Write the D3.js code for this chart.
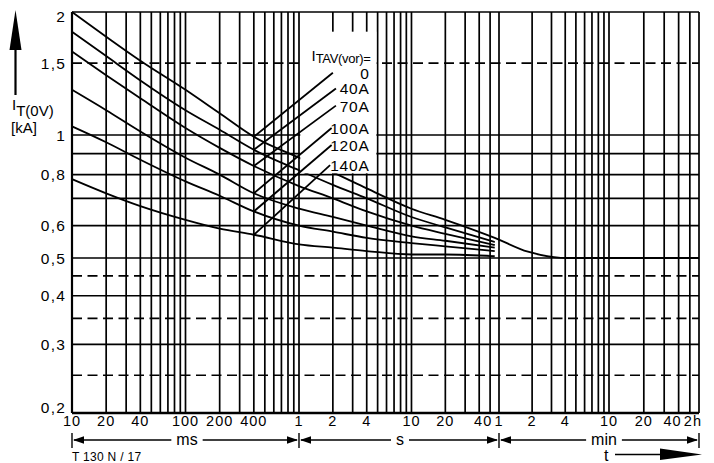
<!DOCTYPE html>
<html lang="de">
<head>
<meta charset="UTF-8">
<title>Grenzstrom I_T(0V)</title>
<script src="https://d3js.org/d3.v7.min.js"></script>
<style>
  body { margin: 0; background: #fff; }
  svg text { font-family: "Liberation Sans", Arial, sans-serif; fill: #000; }
</style>
</head>
<body>
<svg width="714" height="463"></svg>
<script>
// time in s, current in kA
const times    = [0.01, 0.02, 0.04, 0.1, 0.2, 0.4, 1, 2, 4, 10, 20, 55];
const curve0   = [2.00, 1.74, 1.52, 1.29, 1.13, 0.99, 0.88, 0.81, 0.74, 0.66, 0.62, 0.56];
const curve40  = [1.79, 1.56, 1.36, 1.15, 1.03, 0.92, 0.82, 0.755, 0.70, 0.63, 0.594, 0.547];
const curve70  = [1.60, 1.40, 1.23, 1.04, 0.93, 0.84, 0.75, 0.70, 0.65, 0.60, 0.573, 0.538];
const curve100 = [1.29, 1.15, 1.02, 0.88, 0.80, 0.72, 0.66, 0.63, 0.60, 0.565, 0.551, 0.53];
const curve120 = [1.05, 0.96, 0.87, 0.77, 0.71, 0.65, 0.60, 0.58, 0.56, 0.544, 0.534, 0.52];
const curve140 = [0.78, 0.72, 0.67, 0.62, 0.59, 0.57, 0.54, 0.53, 0.52, 0.51, 0.51, 0.505];
// the 0 A curve goes on down to the 0,5 kA line
const tailTimes = [110, 250, 3600];
const tail0     = [0.518, 0.50, 0.50];

const legendLabels = ["0", "40A", "70A", "100A", "120A", "140A"];
const leaderEndT = [2.0, 2.13, 2.13, 1.95, 1.95, 1.89];
const leaderEndV = [1.42, 1.30, 1.18, 1.04, 0.945, 0.844];

// grid
const gridMs  = [10, 20, 30, 40, 50, 60, 70, 80, 90, 100, 200, 300, 400, 500, 600, 700, 800, 900];
const gridS   = [1, 2, 3, 4, 5, 6, 7, 8, 9, 10, 20, 30, 40, 50];
const gridMin = [1, 2, 3, 4, 5, 6, 7, 8, 9, 10, 20, 30, 40, 50, 60];
const solidLevels  = [2, 1, 0.9, 0.8, 0.7, 0.6, 0.5, 0.4, 0.3, 0.2];
const dashedLevels = [1.5, 0.45, 0.35, 0.25];

const yTickVals = [2, 1.5, 1, 0.8, 0.6, 0.5, 0.4, 0.3, 0.2];
const xTickVals = [0.01, 0.02, 0.04, 0.1, 0.2, 0.4, 1, 2, 4, 10, 20, 40, 60, 120, 240, 600, 1200, 2400, 3600];
const xTickText = ["10", "20", "40", "100", "200", "400", "1", "2", "4", "10", "20", "40", "1", "2", "4", "10", "20", "40", "2h"];

const svg = d3.select("svg");

// log time axis, a bit uneven in the original so piecewise
const x = d3.scaleLog().domain([0.01, 1, 60, 600, 3600]).range([72, 299, 499, 609, 699]);
const y = d3.scaleLog().domain([0.2, 0.5, 2]).range([413, 258, 12]);

const gridTimes = gridMs.map(d => d / 1000).concat(gridS).concat(gridMin.map(d => d * 60));
const gw = 1.7;

const grid = svg.append("g");
grid.selectAll("line.v").data(gridTimes).join("line")
    .attr("class", "v")
    .attr("x1", d => x(d)).attr("x2", d => x(d))
    .attr("y1", y(2)).attr("y2", y(0.2))
    .attr("stroke", "#000").attr("stroke-width", gw);
grid.selectAll("line.h").data(solidLevels).join("line")
    .attr("class", "h")
    .attr("x1", x(0.01)).attr("x2", x(3600))
    .attr("y1", d => y(d)).attr("y2", d => y(d))
    .attr("stroke", "#000").attr("stroke-width", gw);
grid.selectAll("line.d").data(dashedLevels).join("line")
    .attr("class", "d")
    .attr("x1", x(0.01)).attr("x2", x(3600))
    .attr("y1", d => y(d)).attr("y2", d => y(d))
    .attr("stroke", "#000").attr("stroke-width", gw)
    .attr("stroke-dasharray", "10,5.5");

// frame
svg.append("line").attr("x1", x(0.01)).attr("x2", x(0.01)).attr("y1", y(2)).attr("y2", y(0.2))
    .attr("stroke", "#000").attr("stroke-width", 2.2);
svg.append("line").attr("x1", x(0.01)).attr("x2", x(3600)).attr("y1", y(0.2)).attr("y2", y(0.2))
    .attr("stroke", "#000").attr("stroke-width", 2.4);

// curves
const curves = [curve0, curve40, curve70, curve100, curve120, curve140];
const line = d3.line()
    .x(d => x(d[0])).y(d => y(d[1]))
    .curve(d3.curveMonotoneX);

curves.forEach((c, i) => {
    let pts = times.map((t, j) => [t, c[j]]);
    if (i === 0) pts = pts.concat(tailTimes.map((t, j) => [t, tail0[j]]));
    svg.append("path")
        .attr("d", line(pts))
        .attr("fill", "none")
        .attr("stroke", "#000")
        .attr("stroke-width", 1.8);
});

// legend box (white, covers grid between 1 s and 5 s)
svg.append("rect")
    .attr("x", x(1) + 1.3).attr("width", x(5) - x(1) - 2.6)
    .attr("y", y(1.79)).attr("height", y(0.8) - y(1.79) - 1.3)
    .attr("fill", "#fff");

// leader lines from curves to labels
curves.forEach((c, i) => {
    svg.append("line")
        .attr("x1", x(times[5])).attr("y1", y(c[5]))
        .attr("x2", x(leaderEndT[i])).attr("y2", y(leaderEndV[i]))
        .attr("stroke", "#000").attr("stroke-width", 1.8);
});

const legendX = x(5) - 8;
const head = svg.append("text")
    .attr("x", legendX + 1).attr("y", y(1.5) - 2)
    .attr("text-anchor", "end");
head.append("tspan").attr("font-size", 15).text("I");
head.append("tspan").attr("font-size", 13).attr("dy", 2).attr("letter-spacing", -0.3).text("TAV(vor)=");

svg.selectAll("text.leg").data(legendLabels).join("text")
    .attr("class", "leg")
    .attr("x", legendX)
    .attr("y", (d, i) => y(leaderEndV[i]) + 6)
    .attr("text-anchor", "end")
    .attr("font-size", 15.5)
    .attr("letter-spacing", 0.8)
    .text(d => d);

// y tick labels (top and bottom ones pushed inside the frame height)
const fmt = d3.formatLocale({decimal: ",", thousands: ".", grouping: [3], currency: ["", ""]}).format("~g");
svg.selectAll("text.yt").data(yTickVals).join("text")
    .attr("class", "yt")
    .attr("x", 66)
    .attr("y", d => y(d) + (d === 2 ? 4 : d === 0.2 ? -6 : 0))
    .attr("dy", "0.36em")
    .attr("text-anchor", "end")
    .attr("font-size", 15.5)
    .attr("letter-spacing", 1.2)
    .text(d => fmt(d));

// x tick labels
svg.selectAll("text.xt").data(xTickVals).join("text")
    .attr("class", "xt")
    .attr("x", (d, i) => {
        if (d === 2400 || d === 3600) return x(d) + 3;
        if (d === 40) return x(d) + 4;
        return x(d);
    })
    .attr("y", 426)
    .attr("text-anchor", d => (d === 2400 || d === 3600) ? "end" : "middle")
    .attr("font-size", 14.5)
    .attr("letter-spacing", 1)
    .text((d, i) => xTickText[i]);

// unit ranges under the axis
const unitY = 440;
const units = [
    {t0: 0.01, t1: 1, label: "ms", cx: 187},
    {t0: 1, t1: 60, label: "s", cx: 400},
    {t0: 60, t1: 3600, label: "min", cx: 604}
];
units.forEach(u => {
    const a = x(u.t0), b = x(u.t1);
    const txt = svg.append("text").attr("x", u.cx).attr("y", unitY + 5)
        .attr("text-anchor", "middle").attr("font-size", 16).text(u.label);
    const w = txt.node().getComputedTextLength();
    svg.append("line").attr("x1", a + 2).attr("x2", u.cx - w / 2 - 5)
        .attr("y1", unitY).attr("y2", unitY).attr("stroke", "#000").attr("stroke-width", 1.6);
    svg.append("line").attr("x1", u.cx + w / 2 + 5).attr("x2", b - 2)
        .attr("y1", unitY).attr("y2", unitY).attr("stroke", "#000").attr("stroke-width", 1.6);
    svg.append("path").attr("d", `M${a + 1},${unitY} l11,-3.8 l0,7.6 Z`).attr("fill", "#000");
    svg.append("path").attr("d", `M${b - 1},${unitY} l-11,-3.8 l0,7.6 Z`).attr("fill", "#000");
});
[0.01, 1, 60, 3600].forEach(t => {
    svg.append("line").attr("x1", x(t)).attr("x2", x(t))
        .attr("y1", unitY - 7).attr("y2", unitY + 8)
        .attr("stroke", "#000").attr("stroke-width", 1.4);
});

// t arrow
svg.append("text").attr("x", 604).attr("y", 461).attr("font-size", 16).text("t");
svg.append("line").attr("x1", 615).attr("x2", 662).attr("y1", 454.5).attr("y2", 454.5)
    .attr("stroke", "#000").attr("stroke-width", 1.6);
svg.append("path").attr("d", "M660,448.5 L702,454.5 L660,460 Z").attr("fill", "#000");

// y axis arrow and label
svg.append("line").attr("x1", 15.5).attr("x2", 15.5).attr("y1", 45).attr("y2", 95)
    .attr("stroke", "#000").attr("stroke-width", 2.2);
svg.append("path").attr("d", "M15.5,10 L21.5,50 L9.5,50 Z").attr("fill", "#000");
const yl = svg.append("text").attr("x", 12).attr("y", 110).attr("font-size", 15);
yl.append("tspan").text("I");
yl.append("tspan").attr("dy", 6).text("T(0V)");
svg.append("text").attr("x", 11).attr("y", 133).attr("font-size", 15).text("[kA]");

svg.append("text").attr("x", 72).attr("y", 461).attr("font-size", 12).attr("letter-spacing", 0.3).text("T 130 N / 17");
</script>
</body>
</html>
